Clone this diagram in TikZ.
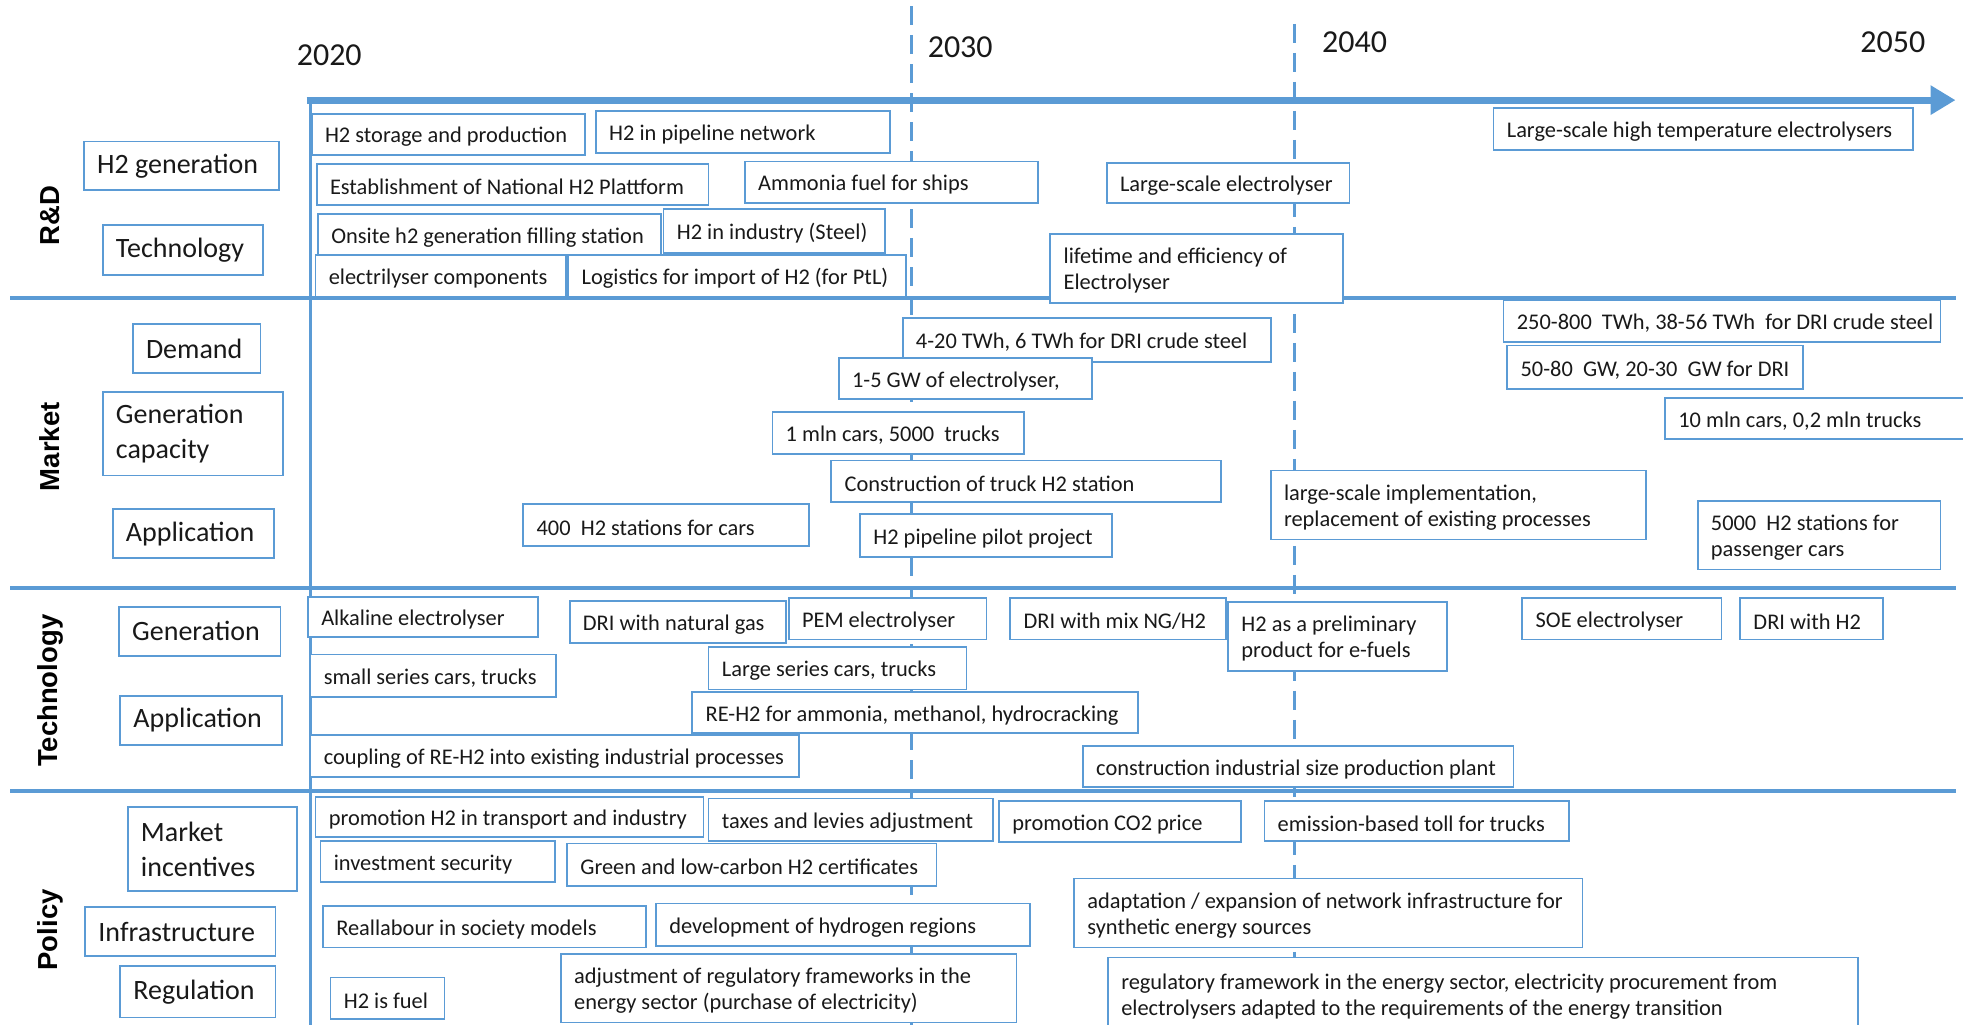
\documentclass[tikz,border=0pt]{standalone}
\usepackage{fontspec}
\setmainfont{Carlito}
\newfontfamily\grpfont{Liberation Sans}
\usetikzlibrary{arrows.meta,fit}

\definecolor{lineblue}{RGB}{91,155,213}

\tikzset{
  box/.style={draw=lineblue, line width=1.8pt, fill=white, inner sep=0pt},
  boxtext/.style={inner xsep=14pt, inner ysep=0pt, align=left, text=black!90},
  txt/.style={boxtext, yshift=-2.5pt, font=\fontsize{22.4}{26}\selectfont},
  cat/.style={boxtext, font=\fontsize{28}{35}\selectfont},
  year/.style={font=\fontsize{32}{38}\selectfont, text=black!90},
  grp/.style={rotate=90, font=\grpfont\bfseries\fontsize{27.5}{33}\selectfont},
  sepline/.style={lineblue, line width=4pt},
  yearline/.style={lineblue, line width=3.5pt, dash pattern=on 19pt off 10pt}
}

% box from (x1,y1) to (x2,y2), text left aligned inside
\newcommand{\itembox}[7][txt]{%
  \node[box, fit={(#3,#4) (#5,#6)}] (#2) {};
  \node[#1, anchor=west] (#2-t) at (#2.west) {#7};}

\begin{document}
\begin{tikzpicture}[x=1.2519pt, y=-1.2515pt]
\useasboundingbox (0,0) rectangle (1568,819);
\clip (0,0) rectangle (1568,819);

% time grid
\draw[yearline] (728,5) -- (728,819);
\draw[yearline] (1034,19) -- (1034,819);
\draw[sepline] (8,238) -- (1562,238);
\draw[sepline] (8,470) -- (1562,470);
\draw[sepline] (8,632) -- (1562,632);
\draw[lineblue, line width=3.5pt] (248,80) -- (248,819);
\draw[lineblue, line width=7pt, -{Triangle[length=25pt,width=28pt]}] (245,80) -- (1562,80);

\node[year] (y2020) at (263,44) {2020};
\node[year] (y2030) at (767,38) {2030};
\node[year] (y2040) at (1082,34) {2040};
\node[year] (y2050) at (1512,34) {2050};

% row groups
\node[grp] (rnd) at (40,172) {R\&D};
\node[grp] (market) at (40,357) {Market};
\node[grp] (tech) at (40,552) {Technology};
\node[grp] (policy) at (40,743) {Policy};

\itembox[cat]{h2gen}{67}{113}{223}{152}{H2 generation}
\itembox[cat]{rdtech}{82}{180}{210}{220}{Technology}
\itembox[cat]{demand}{106}{259}{208}{298}{Demand}
\itembox[cat]{gencap}{82}{313}{226}{380}{Generation\\capacity}
\itembox[cat]{mktapp}{90}{407}{219}{446}{Application}
\itembox[cat]{techgen}{95}{485}{224}{524}{Generation}
\itembox[cat]{techapp}{96}{556}{225}{595}{Application}
\itembox[cat]{incent}{102}{645}{237}{712}{Market\\incentives}
\itembox[cat]{infra}{68}{725}{220}{764}{Infrastructure}
\itembox[cat]{regul}{96}{772}{220}{813}{Regulation}

% R&D
\itembox{storage}{249}{91}{467}{124}{H2 storage and production}
\itembox{pipeline}{476}{89}{711}{122}{H2 in pipeline network}
\itembox{platform}{253}{131}{566}{164}{Establishment of National H2 Plattform}
\itembox{ammonia}{595}{129}{829}{162}{Ammonia fuel for ships}
\itembox{lselec}{884}{130}{1078}{162}{Large-scale electrolyser}
\itembox{onsite}{254}{171}{528}{204}{Onsite h2 generation filling station}
\itembox{steel}{530}{167}{707}{202}{H2 in industry (Steel)}
\itembox{components}{252}{204}{452}{237}{electrilyser components}
\itembox{logistics}{454}{204}{724}{237}{Logistics for import of H2 (for PtL)}
\itembox{lifetime}{839}{187}{1073}{242}{lifetime and efficiency of\\Electrolyser}
\itembox{hightemp}{1193}{86}{1528}{120}{Large-scale high temperature electrolysers}

% Market
\itembox{dem30}{721}{254}{1015}{289}{4-20 TWh, 6 TWh for DRI crude steel}
\itembox{cap30}{670}{286}{872}{319}{1-5 GW of electrolyser,}
\itembox{cars30}{617}{329}{818}{363}{1 mln cars, 5000~ trucks}
\itembox{truckst}{664}{368}{975}{401}{Construction of truck H2 station}
\itembox{carst}{418}{403}{646}{436}{400~ H2 stations for cars}
\itembox{pilot}{687}{411}{888}{445}{H2 pipeline pilot project}
\itembox{largeimpl}{1015}{376}{1315}{431}{large-scale implementation,\\replacement of existing processes}
\itembox{dem50}{1201}{240}{1550}{273}{250-800~ TWh, 38-56 TWh~ for DRI crude steel}
\itembox{cap50}{1204}{276}{1440}{311}{50-80~ GW, 20-30~ GW for DRI}
\itembox{cars50}{1330}{318}{1580}{351}{10 mln cars, 0,2 mln trucks}
\itembox{carst50}{1356}{400}{1550}{455}{5000~ H2 stations for\\passenger cars}

% Technology
\itembox{alkaline}{246}{477}{430}{509}{Alkaline electrolyser}
\itembox{drings}{455}{480}{628}{514}{DRI with natural gas}
\itembox{pem}{630}{478}{788}{511}{PEM electrolyser}
\itembox{drimix}{807}{478}{979}{511}{DRI with mix NG/H2}
\itembox{efuels}{981}{481}{1156}{536}{H2 as a preliminary\\product for e-fuels}
\itembox{soe}{1216}{478}{1375}{511}{SOE electrolyser}
\itembox{drih2}{1390}{478}{1504}{511}{DRI with H2}
\itembox{smallser}{248}{523}{444}{557}{small series cars, trucks}
\itembox{largeser}{566}{517}{772}{551}{Large series cars, trucks}
\itembox{reh2}{553}{553}{909}{586}{RE-H2 for ammonia, methanol, hydrocracking}
\itembox{coupling}{248}{587}{638}{621}{coupling of RE-H2 into existing industrial processes}
\itembox{plant}{865}{596}{1209}{629}{construction industrial size production plant}

% Policy
\itembox{promh2}{252}{637}{562}{669}{promotion H2 in transport and industry}
\itembox{taxes}{566}{638}{793}{672}{taxes and levies adjustment}
\itembox{co2}{798}{640}{991}{673}{promotion CO2 price}
\itembox{toll}{1010}{640}{1253}{672}{emission-based toll for trucks}
\itembox{invest}{256}{672}{443}{705}{investment security}
\itembox{certif}{453}{674}{748}{708}{Green and low-carbon H2 certificates}
\itembox{reallab}{258}{724}{516}{757}{Reallabour in society models}
\itembox{regions}{524}{722}{823}{756}{development of hydrogen regions}
\itembox{network}{858}{702}{1264}{757}{adaptation / expansion of network infrastructure for\\synthetic energy sources}
\itembox{fuel}{264}{781}{355}{814}{H2 is fuel}
\itembox{adjust}{448}{762}{812}{817}{adjustment of regulatory frameworks in the\\energy sector (purchase of electricity)}
\itembox{framework}{885}{765}{1484}{823}{regulatory framework in the energy sector, electricity procurement from\\electrolysers adapted to the requirements of the energy transition}
\end{tikzpicture}
\end{document}
